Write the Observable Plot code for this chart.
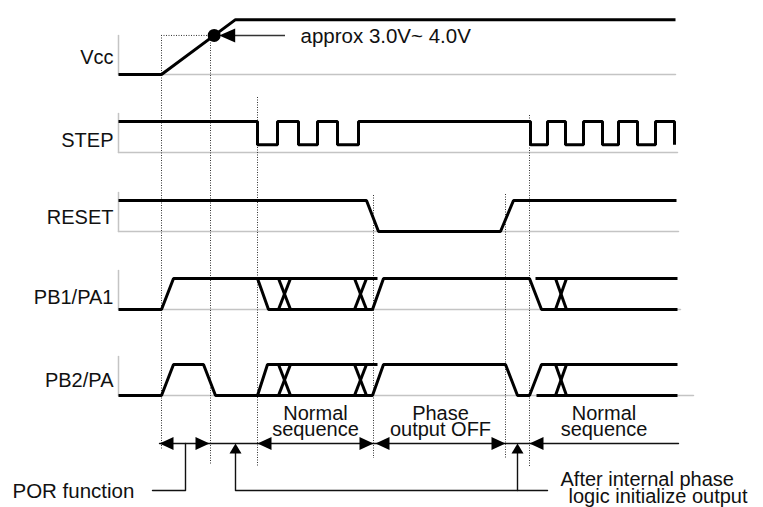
<!DOCTYPE html>
<html><head><meta charset="utf-8">
<script src="https://cdn.jsdelivr.net/npm/d3@7"></script>
<script src="https://cdn.jsdelivr.net/npm/@observablehq/plot@0.6"></script>
<style>body{margin:0;background:#fff}</style>
</head><body><div id="chart"></div>
<script>
// ---------------- DATA (time units along the diagram, levels in signal units) ----------------
const signals = ["Vcc", "STEP", "RESET", "PB1/PA1", "PB2/PA"];
const tStart = 118;
// Vcc: low, ramp, high
const vccWave = [[[118, 0], [161, 0], [235, 1.77], [675, 1.77]]];
const vccThresholdLevel = 1.26;
const vccThresholdText = "approx 3.0V~ 4.0V";
// STEP: edges
const stepFalls = [257, 298, 337, 530, 565, 602, 637, 674];
const stepRises = [277, 317, 358, 547, 583, 618, 655];
const stepLowLevel = 0.25;
// RESET
const resetWave = [[[118, 1], [366, 1], [378, 0], [500, 0], [513, 1], [676, 1]]];
// PB1/PA1
const pb1Wave = [
  [[118, 0], [161, 0], [173, 1], [377, 1]],
  [[257, 1], [268, 0], [372, 0], [383, 1], [529, 1], [541, 0], [677, 0]],
  [[535, 1], [677, 1]]
];
// PB2/PA
const pb2Wave = [
  [[118, 0], [161, 0], [173, 1], [203, 1], [215, 0], [372, 0], [383, 1], [505, 1], [517, 0], [529, 0], [541, 1], [677, 1]],
  [[257, 0], [267, 1], [377, 1]],
  [[536, 0], [677, 0]]
];
// phase crossings (X) on PB rows
const crossStart = [278, 354, 555];
const crossEnd = [290, 366, 566];
// timing markers (dotted)
const markerTimes = [161, 210, 257, 373, 505, 529];
// intervals with dimension arrows
const intervalFrom = [159, 257, 375, 529];
const intervalTo = [209, 373, 505, null];
const intervalLabels = ["", "Normal\nsequence", "Phase\noutput OFF", "Normal\nsequence"];
const intervalOpenEnd = 678;
// pointers
const porPointer = 185;
const initPointers = [235, 517];
const porText = "POR function";
const initText = ["After internal phase", "logic initialize output"];

// ---------------- LAYOUT ----------------
const W = 763, H = 507;
const base = [74, 152, 231, 309, 395];
const baseEnd = [675, 677, 678, 680, 693];
const amp = 31;
const labelDy = [-11, -6, -8, -6, -9];
const markerTop = [35, 35, 97, 195, 194, 115];
const markerBottom = [450, 465, 467, 458, 458, 466];
const annoY = 443, leaderY = 490;
const font = "Liberation Sans, Arial, sans-serif";
const Y = (row, level) => base[row] - level * amp;

// ---------------- DERIVED ----------------
const stepPoly = [[tStart, 1]];
[...stepFalls.map(t => ({t, f: true})), ...stepRises.map(t => ({t, f: false}))]
  .sort((a, b) => a.t - b.t)
  .forEach(e => {
    if (e.f) stepPoly.push([e.t, 1], [e.t, stepLowLevel]);
    else stepPoly.push([e.t, stepLowLevel], [e.t, 1]);
  });
const crossPolys = crossStart.flatMap((s, i) => [[[s, 1], [crossEnd[i], 0]], [[s, 0], [crossEnd[i], 1]]]);

function flat(polys, row, tag) {
  return polys.flatMap((p, i) => p.map(([t, l]) => ({id: tag + "-" + i, x: t, y: Y(row, l)})));
}
const waves = [
  ...flat(vccWave, 0, "vcc"),
  ...flat([stepPoly], 1, "step"),
  ...flat(resetWave, 2, "reset"),
  ...flat(pb1Wave, 3, "pb1"),
  ...flat(crossPolys, 3, "pb1x"),
  ...flat(pb2Wave, 4, "pb2"),
  ...flat(crossPolys, 4, "pb2x")
];

// guide lines (gray) per row
const guides = signals.flatMap((s, i) => [
  {id: "h" + i, x: tStart, y: base[i]}, {id: "h" + i, x: baseEnd[i], y: base[i]}
]);
const guideV = signals.flatMap((s, i) => [
  {id: "v" + i, x: tStart, y: base[i] - 39}, {id: "v" + i, x: tStart, y: base[i]}
]);

// Vcc threshold
const vr = vccWave[0];
const tThr = vr[1][0] + (vccThresholdLevel / vr[2][1]) * (vr[2][0] - vr[1][0]);
const yThr = Y(0, vccThresholdLevel);

// arrowheads (custom symbols, tip at origin)
const headLeft = {draw(c) { c.moveTo(0, 0); c.lineTo(14, -6.5); c.lineTo(14, 6.5); c.closePath(); }};
const headRight = {draw(c) { c.moveTo(0, 0); c.lineTo(-14, -6.5); c.lineTo(-14, 6.5); c.closePath(); }};
const headLeftBig = {draw(c) { c.moveTo(0, 0); c.lineTo(16, -7); c.lineTo(16, 7); c.closePath(); }};
const headUp = {draw(c) { c.moveTo(0, 0); c.lineTo(-6, 10); c.lineTo(6, 10); c.closePath(); }};

const leftHeads = intervalFrom.map(t => ({x: t, y: annoY}));
const rightHeads = intervalTo.filter(t => t != null).map(t => ({x: t, y: annoY}));
const upHeads = initPointers.map(t => ({x: t, y: annoY}));

const annoLines = [
  {id: "dim", x: intervalFrom[0], y: annoY}, {id: "dim", x: intervalOpenEnd, y: annoY},
  {id: "por", x: 152, y: leaderY}, {id: "por", x: porPointer, y: leaderY}, {id: "por", x: porPointer, y: annoY},
  {id: "init", x: initPointers[0], y: annoY + 8}, {id: "init", x: initPointers[0], y: leaderY}, {id: "init", x: 547, y: leaderY},
  {id: "init2", x: initPointers[1], y: annoY + 8}, {id: "init2", x: initPointers[1], y: leaderY}
];
const intervalText = intervalLabels.map((l, i) => ({
  text: l,
  x: ((intervalTo[i] ?? intervalOpenEnd) + intervalFrom[i]) / 2
})).filter(d => d.text);

const chart = Plot.plot({
  width: W, height: H, margin: 0,
  x: {domain: [0, W], range: [0, W], axis: null},
  y: {domain: [0, H], range: [0, H], axis: null},
  style: {background: "#fff", fontFamily: font},
  marks: [
    // gray guides
    Plot.line(guides, {x: "x", y: "y", z: "id", stroke: "#c4c4c4", strokeWidth: 1.5}),
    Plot.line(guideV, {x: "x", y: "y", z: "id", stroke: "#c4c4c4", strokeWidth: 1.5}),
    // dotted markers
    Plot.ruleX(markerTimes, {x: d => d, y1: (d, i) => markerTop[i], y2: (d, i) => markerBottom[i],
      stroke: "#333", strokeWidth: 1, strokeDasharray: "1,1.5"}),
    Plot.ruleY([yThr], {y: d => d, x1: vr[1][0], x2: 210, stroke: "#333", strokeWidth: 1, strokeDasharray: "1,1.5"}),
    // waveforms
    Plot.line(waves, {x: "x", y: "y", z: "id", stroke: "#000", strokeWidth: 3,
      strokeLinejoin: "miter", strokeLinecap: "butt"}),
    // Vcc threshold dot & arrow
    Plot.dot([{x: tThr, y: yThr}], {x: "x", y: "y", r: 6.5, fill: "#000", stroke: "none"}),
    Plot.ruleY([yThr], {y: d => d, x1: tThr + 18, x2: 285, stroke: "#333", strokeWidth: 1.6}),
    Plot.dot([{x: tThr + 5, y: yThr}], {x: "x", y: "y", symbol: headLeftBig, r: 5, fill: "#000", stroke: "none"}),
    Plot.text([vccThresholdText], {x: 300, y: yThr + 8, text: d => d, textAnchor: "start", lineAnchor: "bottom",
      fontSize: 20.5, fill: "#111"}),
    // annotation lines
    Plot.line(annoLines, {x: "x", y: "y", z: "id", stroke: "#111", strokeWidth: 1.4}),
    Plot.dot(leftHeads, {x: "x", y: "y", symbol: headLeft, r: 5, fill: "#000", stroke: "none"}),
    Plot.dot(rightHeads, {x: "x", y: "y", symbol: headRight, r: 5, fill: "#000", stroke: "none"}),
    Plot.dot(upHeads, {x: "x", y: "y", symbol: headUp, r: 5, fill: "#000", stroke: "none"}),
    // interval labels
    Plot.text(intervalText, {x: "x", y: 435, text: "text", textAnchor: "middle", lineAnchor: "bottom",
      lineHeight: 0.8, fontSize: 20, fill: "#111"}),
    // signal labels
    Plot.text(signals, {x: 113, y: (d, i) => base[i] + labelDy[i], text: d => d, textAnchor: "end",
      lineAnchor: "bottom", fontSize: 20, fill: "#111"}),
    // POR & init texts
    Plot.text([porText], {x: 12, y: 497, text: d => d, textAnchor: "start", lineAnchor: "bottom", fontSize: 20.5, fill: "#111"}),
    Plot.text([initText[0]], {x: 560, y: 485, text: d => d, textAnchor: "start", lineAnchor: "bottom", fontSize: 20, fill: "#111"}),
    Plot.text([initText[1]], {x: 568, y: 502, text: d => d, textAnchor: "start", lineAnchor: "bottom", fontSize: 20, fill: "#111"})
  ]
});
document.getElementById("chart").appendChild(chart);
</script>
</body></html>
